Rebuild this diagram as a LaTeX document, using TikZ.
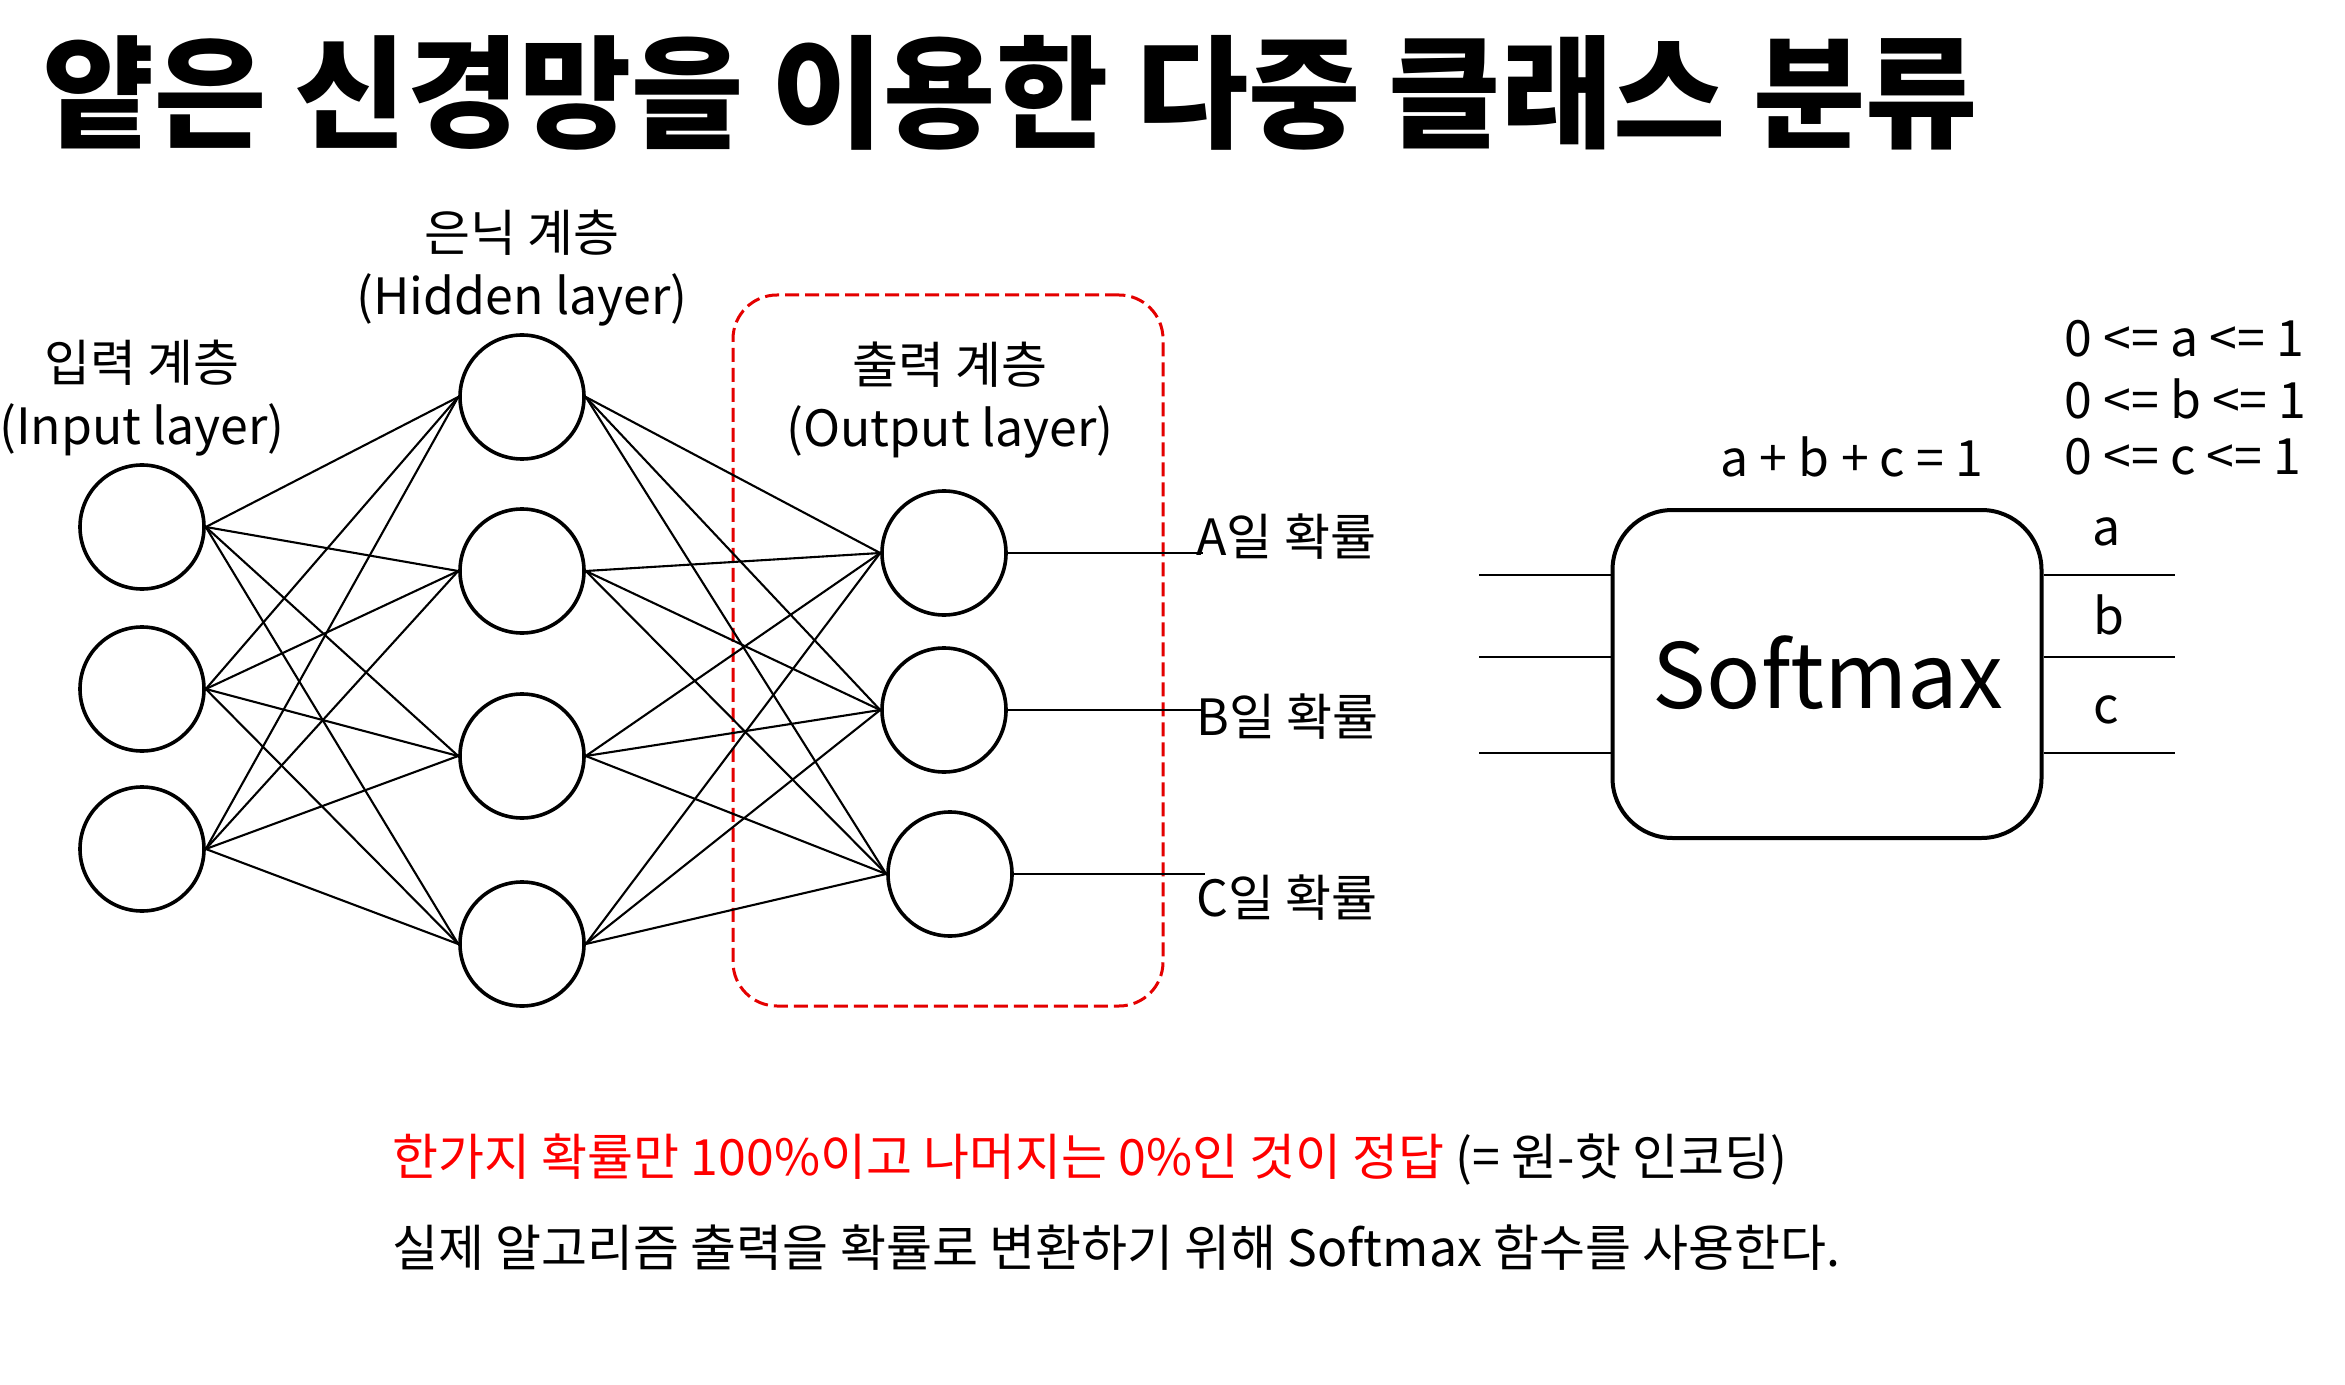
\documentclass[tikz,border=0pt]{standalone}
\usepackage{fontspec}
\setmainfont{Noto Sans CJK KR}
\newfontfamily\titlefont{Noto Sans CJK KR Black}
\definecolor{boxred}{RGB}{228,0,0}
\definecolor{txtred}{RGB}{255,0,0}
\begin{document}
\begin{tikzpicture}[x=0.5pt,y=-0.5pt,
  neuron/.style={circle, draw, line width=1.8pt, minimum size=62pt, inner sep=0pt},
  wire/.style={line width=1.05pt},
  thinwire/.style={line width=0.8pt},
  lbl/.style={font=\fontsize{25pt}{31.5pt}\selectfont, inner sep=0pt, align=center},
  smbox/.style={draw, line width=2pt, rounded corners=30pt, minimum width=214.5pt, minimum height=164pt, inner sep=0pt},
  outbox/.style={draw=boxred, line width=1.5pt, dash pattern=on 7pt off 3pt, rounded corners=22pt, minimum width=215pt, minimum height=355.5pt, inner sep=0pt}
]
\useasboundingbox (0,0) rectangle (2345,1385);

% title
\node[anchor=west, inner sep=0pt, font=\fontsize{61pt}{66pt}\selectfont\titlefont] (title) at (42,93) {얕은 신경망을 이용한 다중 클래스 분류};

% output layer dashed box
\node[outbox] (obox) at (948,650.5) {};

% neurons
\node[neuron] (i1) at (142,527) {};
\node[neuron] (i2) at (142,689) {};
\node[neuron] (i3) at (142,849) {};
\node[neuron] (h1) at (522,397) {};
\node[neuron] (h2) at (522,571) {};
\node[neuron] (h3) at (522,756) {};
\node[neuron] (h4) at (522,944) {};
\node[neuron] (o1) at (944,553) {};
\node[neuron] (o2) at (944,710) {};
\node[neuron] (o3) at (950,874) {};

% connections
\foreach \i in {1,2,3}{\foreach \h in {1,2,3,4}{\draw[wire] (i\i.east) -- (h\h.west);}}
\foreach \h in {1,2,3,4}{\foreach \o in {1,2,3}{\draw[wire] (h\h.east) -- (o\o.west);}}

% layer labels
\node[lbl] (linput) at (142,398) {입력 계층\\(Input layer)};
\node[lbl] (lhidden) at (522,268) {은닉 계층\\(Hidden layer)};
\node[lbl] (loutput) at (950,400) {출력 계층\\(Output layer)};

% output probability labels
\node[lbl, anchor=west] (pa) at (1196,537) {A일 확률};
\node[lbl, anchor=west] (pb) at (1196,717) {B일 확률};
\node[lbl, anchor=west] (pc) at (1196,898) {C일 확률};
\coordinate (ea) at (1203,553);
\coordinate (eb) at (1203,710);
\coordinate (ec) at (1205,874);
\draw[thinwire] (o1.east) -- (ea);
\draw[thinwire] (o2.east) -- (eb);
\draw[thinwire] (o3.east) -- (ec);

% softmax block
\node[smbox] (sm) at (1827,674) {};
\node[inner sep=0pt, font=\fontsize{45pt}{50pt}\selectfont] (smt) at (1828,673) {Softmax};
\coordinate (si1) at (1479,575);
\coordinate (si2) at (1479,657);
\coordinate (si3) at (1479,753);
\coordinate (so1) at (2175,575);
\coordinate (so2) at (2175,657);
\coordinate (so3) at (2175,753);
\foreach \k in {1,2,3}{
  \draw[thinwire] (si\k) -- (si\k -| sm.west);
  \draw[thinwire] (sm.east |- so\k) -- (so\k);
}
\node[lbl] (la) at (2107,532) {a};
\node[lbl] (lb) at (2109,615) {b};
\node[lbl] (lc) at (2106,710) {c};

\node[lbl] (sum) at (1852,457) {a + b + c = 1};
\node[lbl, anchor=west] (ca) at (2064,339) {0 <= a <= 1};
\node[lbl, anchor=west] (cb) at (2064,399) {0 <= b <= 1};
\node[lbl, anchor=west] (cc) at (2064,457) {0 <= c <= 1};

% bottom text
\node[lbl, anchor=west] (line1) at (392,1160) {\textcolor{txtred}{한가지 확률만 100\%이고 나머지는 0\%인 것이 정답} (= 원-핫 인코딩)};
\node[lbl, anchor=west] (line2) at (392,1248) {실제 알고리즘 출력을 확률로 변환하기 위해 Softmax 함수를 사용한다.};
\end{tikzpicture}
\end{document}
